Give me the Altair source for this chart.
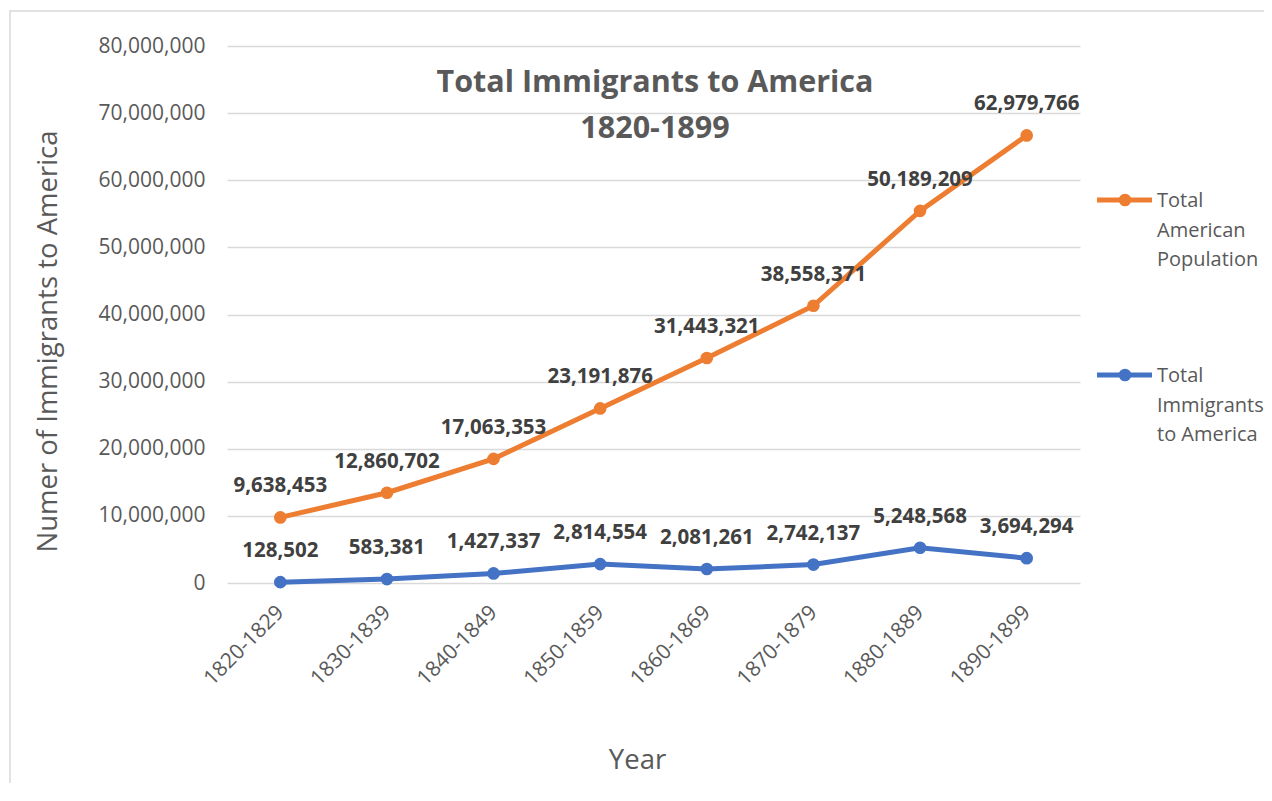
import altair as alt
import pandas as pd

PERIODS = ["1820-1829", "1830-1839", "1840-1849", "1850-1859",
           "1860-1869", "1870-1879", "1880-1889", "1890-1899"]
POPULATION = [9638453, 12860702, 17063353, 23191876, 31443321, 38558371, 50189209, 62979766]
IMMIGRANTS = [128502, 583381, 1427337, 2814554, 2081261, 2742137, 5248568, 3694294]
SERIES = ["Total American Population", "Total Immigrants to America"]
LEGEND_TEXT = ["Total\nAmerican\nPopulation", "Total\nImmigrants\nto America"]
COLORS = ["#ED7D31", "#4472C4"]
TITLE_LINES = "Total Immigrants to America\n1820-1899"
Y_TICKS = [0, 10000000, 20000000, 30000000, 40000000, 50000000, 60000000, 70000000, 80000000]

FONT = "Open Sans"
GRAY = "#595959"

rows = []
for i, p in enumerate(PERIODS):
    rows.append({"period": p, "series": SERIES[1], "value": IMMIGRANTS[i], "ord": 0})
    rows.append({"period": p, "series": SERIES[0], "value": POPULATION[i], "ord": 1})
df = pd.DataFrame(rows)

W, H = 853, 537

base = alt.Chart(df).transform_stack(
    stack="value", groupby=["period"], as_=["y0", "y1"],
    sort=[alt.SortField("ord", order="ascending")]
)

x_enc = alt.X(
    "period:N", sort=PERIODS, title="Year",
    axis=alt.Axis(labelAngle=-45, labelAlign="right", labelBaseline="middle",
                  labelPadding=26, labelOverlap=False, domain=False, ticks=False, grid=False,
                  titleX=410, titleY=177, titleAlign="center", titleBaseline="middle")
)
y_enc = alt.Y(
    "y1:Q", title="Numer of Immigrants to America",
    scale=alt.Scale(domain=[0, 80000000], nice=False),
    axis=alt.Axis(values=Y_TICKS, labelExpr="format(datum.value, ',')",
                  labelPadding=22, domain=False, ticks=False,
                  gridColor="#D9D9D9", gridWidth=1.5,
                  titleX=-179, titleY=295, titleAlign="center",
                  titleBaseline="middle", titleAngle=-90)
)
color_enc = alt.Color("series:N", scale=alt.Scale(domain=SERIES, range=COLORS), legend=None)

lines = base.mark_line(strokeWidth=5).encode(x=x_enc, y=y_enc, color=color_enc)
points = base.mark_circle(size=160, opacity=1).encode(x=x_enc, y=y_enc, color=color_enc)
labels = base.mark_text(font=FONT, fontSize=20.5, fontWeight="bold", color="#404040",
                        dy=-31, baseline="middle", align="center").encode(
    x=x_enc, y=y_enc, text=alt.Text("value:Q", format=",")
)

border = alt.Chart(pd.DataFrame({"a": [0]})).mark_rect(
    fillOpacity=0, stroke="#D9D9D9", strokeWidth=1.5
).encode(x=alt.value(-217), y=alt.value(-35), x2=alt.value(1200), y2=alt.value(900))

title = alt.Chart(pd.DataFrame({"t": [TITLE_LINES]})).mark_text(
    font=FONT, fontSize=30.5, fontWeight="bold", color=GRAY, lineBreak="\n",
    lineHeight=46, baseline="top", align="center"
).encode(x=alt.value(428), y=alt.value(22), text="t:N")

legend_layers = []
for i, (txt, col) in enumerate(zip(LEGEND_TEXT, COLORS)):
    ly = 154 + i * 175
    one = alt.Chart(pd.DataFrame({"t": [txt]}))
    legend_layers.append(one.mark_rule(strokeWidth=5, color=col).encode(
        x=alt.value(870), x2=alt.value(925), y=alt.value(ly)))
    legend_layers.append(one.mark_circle(size=160, opacity=1, color=col).encode(
        x=alt.value(898), y=alt.value(ly)))
    legend_layers.append(one.mark_text(font=FONT, fontSize=20, color=GRAY, lineBreak="\n",
                                       lineHeight=29.5, baseline="top", align="left").encode(
        x=alt.value(930), y=alt.value(ly - 9), text="t:N"))

chart = alt.layer(border, lines, points, labels, title, *legend_layers).properties(
    width=W, height=H,
    padding={"left": 219, "top": 38, "right": 184, "bottom": 200},
    autosize=alt.AutoSizeParams(type="none"),
).configure_view(stroke=None).configure_axis(
    labelFont=FONT, labelFontSize=21, labelColor=GRAY,
    titleFont=FONT, titleFontSize=27.5, titleFontWeight="normal", titleColor=GRAY,
)

chart.save("out.html", embed_options={"renderer": "svg", "actions": False})
